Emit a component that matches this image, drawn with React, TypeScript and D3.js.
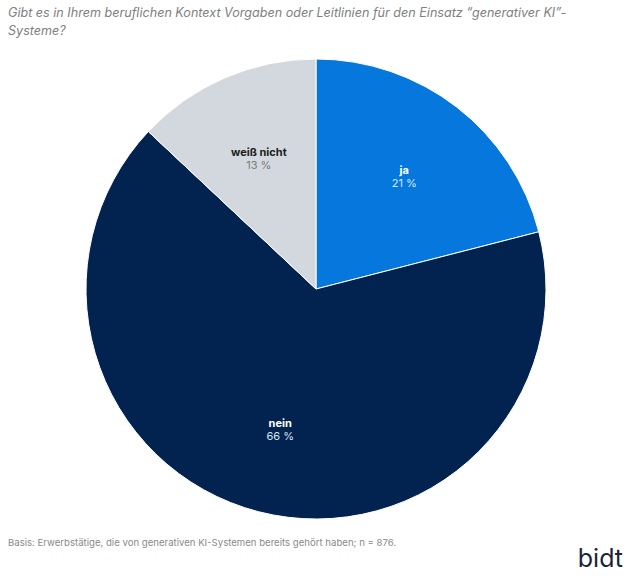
import { useEffect, useRef } from 'react';
import * as d3 from 'd3';

const categories = ['ja', 'nein', 'weiß nicht'];
const values = [21, 66, 13];
const colors = ['#0677dc', '#022350', '#d2d8dd'];
const nameColors = ['#ffffff', '#ffffff', '#1c1c1c'];
const valueColors = ['#d8ecff', '#d8e4f2', '#7a7a7a'];

const title = [
  'Gibt es in Ihrem beruflichen Kontext Vorgaben oder Leitlinien für den Einsatz “generativer KI”-',
  'Systeme?',
];
const note = 'Basis: Erwerbstätige, die von generativen KI-Systemen bereits gehört haben; n = 876.';

export default function App() {
  const ref = useRef<SVGSVGElement | null>(null);

  useEffect(() => {
    const svg = d3.select(ref.current);
    svg.selectAll('*').remove();
    const width = 630;
    const height = 576;
    svg.attr('width', width).attr('height', height);

    svg.append('rect').attr('width', width).attr('height', height).attr('fill', '#ffffff');

    svg.selectAll('.title')
      .data(title)
      .enter()
      .append('text')
      .attr('class', 'title')
      .attr('x', 8)
      .attr('y', (_, i) => 17 + i * 18)
      .attr('font-family', 'Inter, sans-serif')
      .attr('font-style', 'italic')
      .attr('font-size', 12.6)
      .attr('fill', '#808080')
      .text(d => d);

    const cx = 316;
    const cy = 289;
    const r = 230;

    const data = categories.map((c, i) => ({ c, v: values[i], i }));
    const pie = d3.pie<typeof data[0]>().value(d => d.v).sort(null);
    const arcs = pie(data);
    const arc = d3.arc<d3.PieArcDatum<typeof data[0]>>().innerRadius(0).outerRadius(r);
    const labelArc = d3.arc<d3.PieArcDatum<typeof data[0]>>().innerRadius(288).outerRadius(0);

    const g = svg.append('g').attr('transform', `translate(${cx},${cy})`);

    g.selectAll('path')
      .data(arcs)
      .enter()
      .append('path')
      .attr('d', arc)
      .attr('fill', d => colors[d.data.i])
      .attr('stroke', '#ffffff')
      .attr('stroke-width', 1);

    const labels = g.selectAll('.lbl')
      .data(arcs)
      .enter()
      .append('g')
      .attr('class', 'lbl')
      .attr('transform', d => {
        const [x, y] = labelArc.centroid(d);
        return `translate(${x},${y})`;
      });

    labels.append('text')
      .attr('text-anchor', 'middle')
      .attr('y', -1)
      .attr('font-family', 'Inter, sans-serif')
      .attr('font-weight', 'bold')
      .attr('font-size', 11)
      .attr('fill', d => nameColors[d.data.i])
      .text(d => d.data.c);

    labels.append('text')
      .attr('text-anchor', 'middle')
      .attr('y', 12)
      .attr('font-family', 'Inter, sans-serif')
      .attr('font-size', 11)
      .attr('fill', d => valueColors[d.data.i])
      .text(d => `${d.data.v} %`);

    svg.append('text')
      .attr('x', 8)
      .attr('y', 546)
      .attr('font-family', 'Inter, sans-serif')
      .attr('font-size', 9.6)
      .attr('fill', '#8a8a8a')
      .text(note);

    svg.append('text')
      .attr('x', 623)
      .attr('y', 567)
      .attr('text-anchor', 'end')
      .attr('font-family', 'Inter, sans-serif')
      .attr('font-size', 25)
      .attr('fill', '#1b2435')
      .text('bidt');
  }, []);

  return (
    <svg
      ref={ref}
      style={{ position: 'absolute', left: 0, top: 0, display: 'block' }}
    />
  );
}
